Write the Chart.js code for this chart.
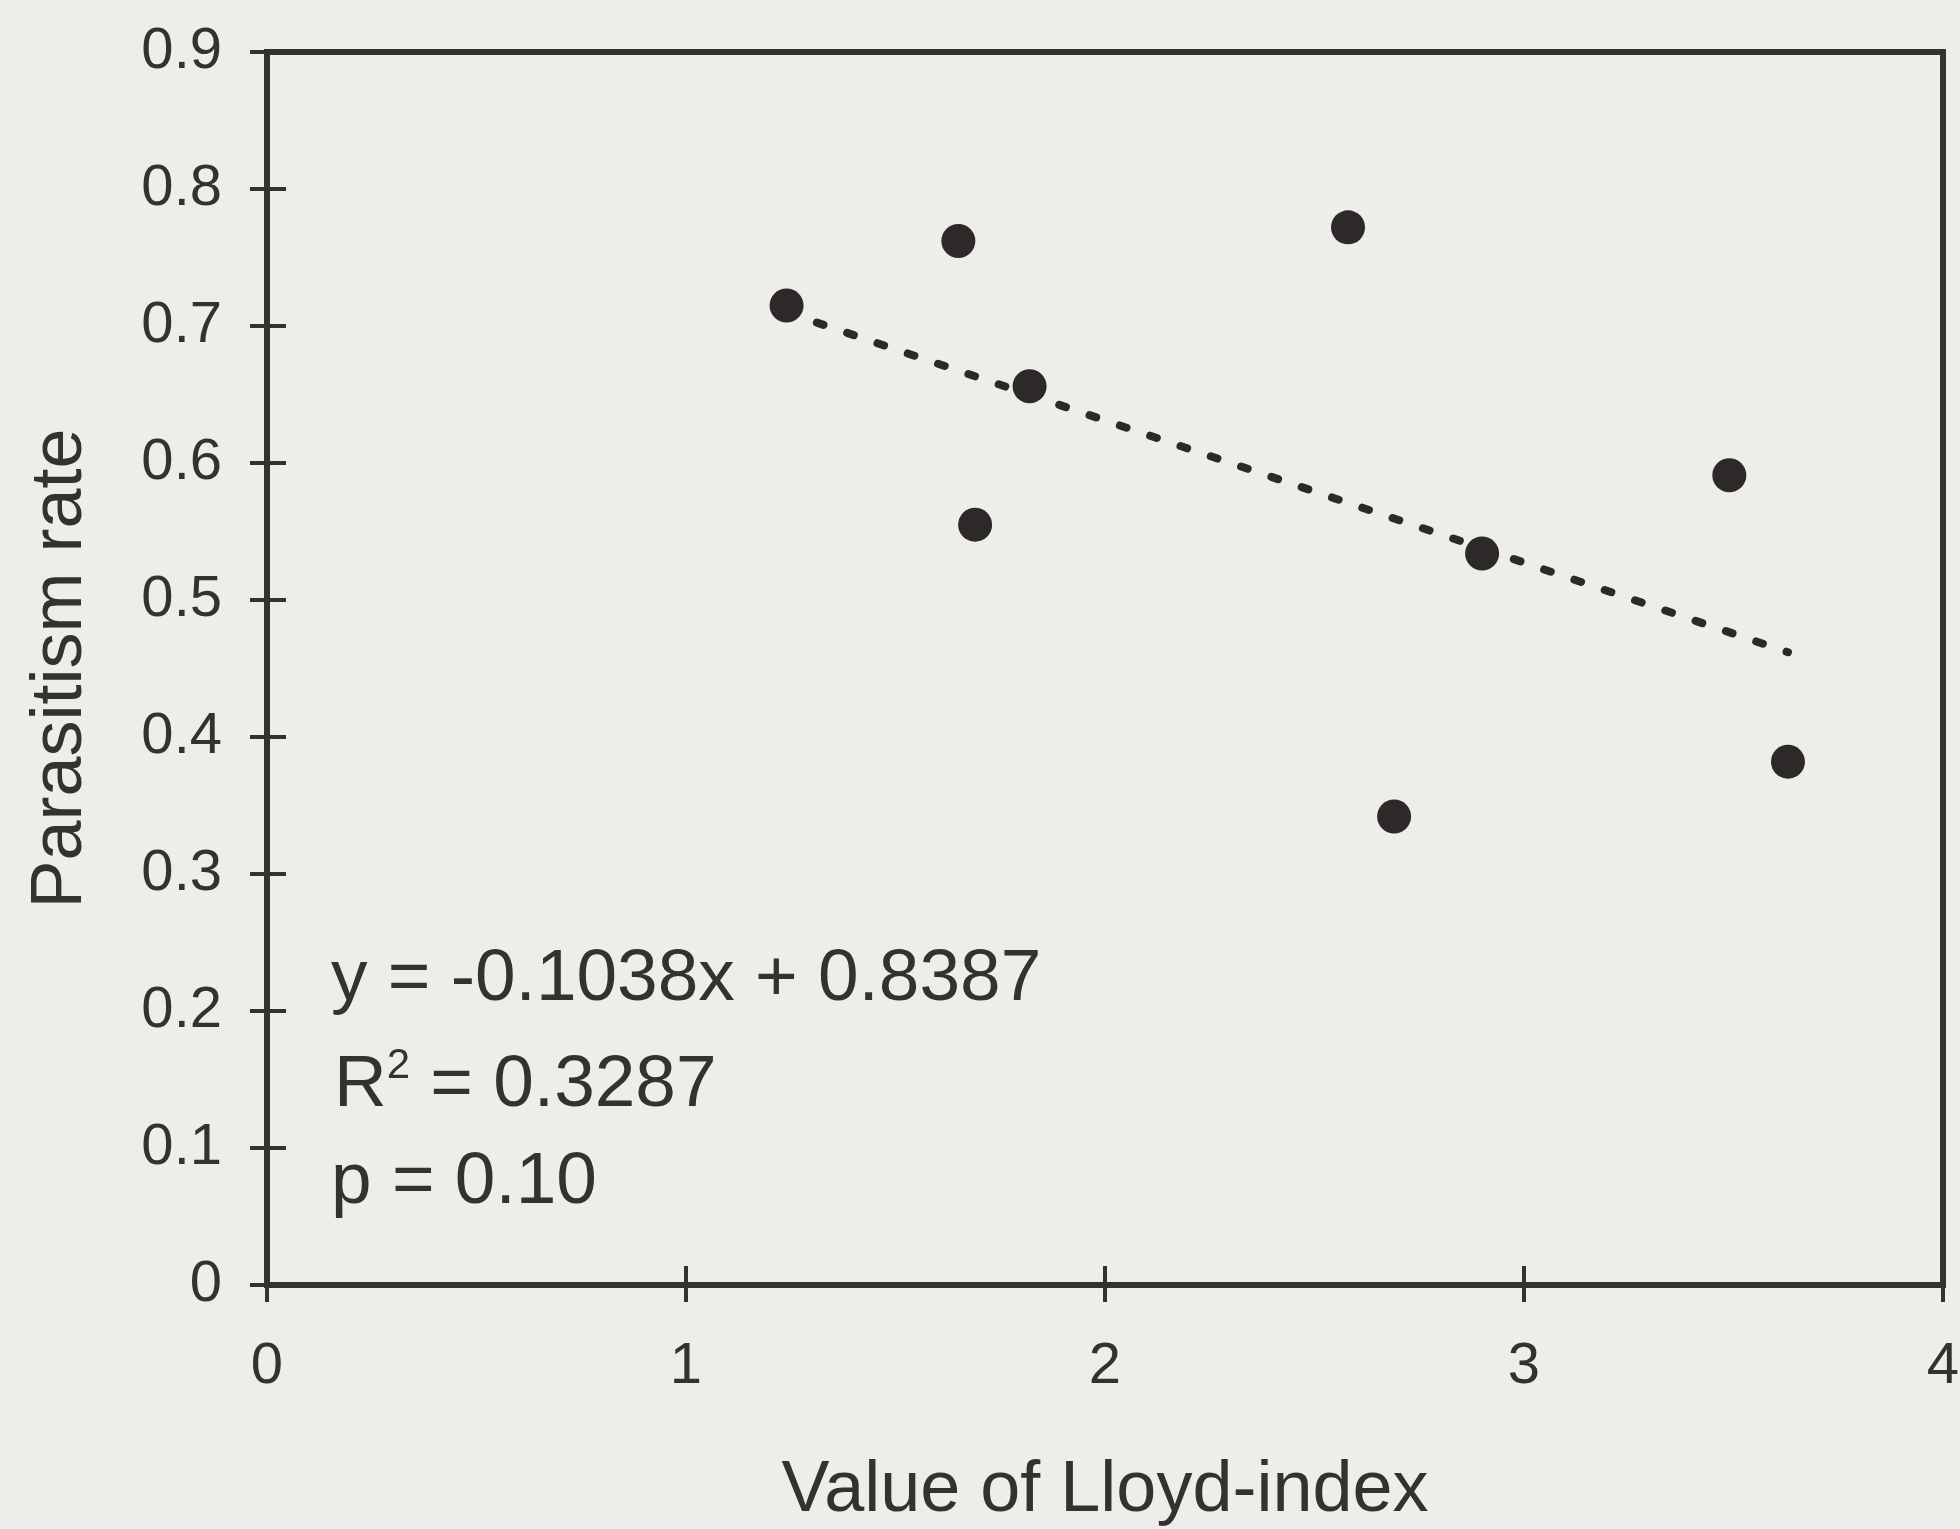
<!DOCTYPE html>
<html>
<head>
<meta charset="utf-8">
<script src="https://cdn.jsdelivr.net/npm/chart.js@4"></script>
<style>
  html, body { margin: 0; padding: 0; background: #ededea; }
  #wrap { width: 1960px; height: 1529px; }
</style>
</head>
<body>
<div id="wrap"><canvas id="myChart" width="1960" height="1529"></canvas></div>
<script>
// values
var lloydIndex = [1.24, 1.65, 2.58, 1.82, 1.69, 2.90, 3.49, 2.69, 3.63];
var parasitism = [0.715, 0.762, 0.772, 0.656, 0.555, 0.534, 0.591, 0.342, 0.382];

// printed regression
var slope = -0.1038;
var intercept = 0.8387;
var statLines = ["y = -0.1038x + 0.8387", "R", "2", " = 0.3287", "p = 0.10"];

var xTickLabels = ["0", "1", "2", "3", "4"];
var yTickLabels = ["0", "0.1", "0.2", "0.3", "0.4", "0.5", "0.6", "0.7", "0.8", "0.9"];

var ink = "#353131";
var fontName = "'Liberation Sans', Arial, Helvetica, sans-serif";
Chart.defaults.font.family = fontName;
Chart.defaults.color = ink;

var points = [];
for (var i = 0; i < lloydIndex.length; i++) {
    points.push({ x: lloydIndex[i], y: parasitism[i] });
}

var xMin = Math.min.apply(null, lloydIndex);
var xMax = Math.max.apply(null, lloydIndex);
var trend = [
    { x: xMin, y: slope * xMin + intercept },
    { x: xMax, y: slope * xMax + intercept }
];

// box, inner half of the cross ticks, and the stats text
var framePlugin = {
    id: "frame",
    afterDraw: function (chart) {
        var ctx = chart.ctx;
        var a = chart.chartArea;
        var xs = chart.scales.x;
        var ys = chart.scales.y;
        ctx.save();
        ctx.strokeStyle = ink;
        ctx.lineWidth = 4;
        ys.ticks.forEach(function (t) {
            var py = ys.getPixelForValue(t.value);
            ctx.beginPath();
            ctx.moveTo(a.left, py);
            ctx.lineTo(a.left + 19, py);
            ctx.stroke();
        });
        xs.ticks.forEach(function (t) {
            var px = xs.getPixelForValue(t.value);
            ctx.beginPath();
            ctx.moveTo(px, a.bottom);
            ctx.lineTo(px, a.bottom - 19);
            ctx.stroke();
        });
        ctx.lineWidth = 6;
        ctx.strokeRect(a.left, a.top, a.right - a.left, a.bottom - a.top);

        ctx.fillStyle = ink;
        ctx.textBaseline = "alphabetic";
        ctx.textAlign = "left";
        var tx = a.left + 64;
        ctx.font = "73px " + fontName;
        ctx.fillText(statLines[0], tx, a.top + 948);
        ctx.fillText(statLines[1], tx + 3, a.top + 1054);
        var rw = ctx.measureText(statLines[1]).width;
        ctx.font = "42px " + fontName;
        ctx.fillText(statLines[2], tx + 3 + rw, a.top + 1026);
        var sw = ctx.measureText(statLines[2]).width;
        ctx.font = "73px " + fontName;
        ctx.fillText(statLines[3], tx + 3 + rw + sw, a.top + 1054);
        ctx.fillText(statLines[4], tx, a.top + 1151);
        ctx.restore();
    }
};

var chartCtx = document.getElementById("myChart");
var myChart = new Chart(chartCtx, {
    type: "scatter",
    data: {
        datasets: [
            {
                label: "Parasitism",
                data: points,
                backgroundColor: "#2d2929",
                borderWidth: 0,
                pointRadius: 17,
                pointHoverRadius: 17,
            },
            {
                type: "line",
                label: "Trend",
                data: trend,
                borderColor: "#2d2929",
                borderWidth: 8,
                borderDash: [7, 25],
                borderCapStyle: "round",
                pointRadius: 0,
                fill: false,
            },
        ],
    },
    options: {
        responsive: false,
        animation: false,
        events: [],
        layout: { padding: { top: 52, right: 13, left: 0, bottom: 0 } },
        plugins: {
            legend: { display: false },
            tooltip: { enabled: false },
        },
        scales: {
            x: {
                type: "linear",
                min: 0,
                max: 4,
                ticks: {
                    stepSize: 1,
                    padding: 30,
                    font: { size: 58 },
                    color: ink,
                    callback: function (v, i) { return xTickLabels[i]; },
                },
                grid: { drawOnChartArea: false, tickLength: 17, lineWidth: 4, color: ink },
                border: { display: false },
                title: {
                    display: true,
                    text: "Value of Lloyd-index",
                    font: { size: 72, lineHeight: 1 },
                    color: ink,
                    padding: { top: 0, bottom: 2 },
                },
                afterFit: function (scale) {
                    scale.height = 244;
                    scale.paddingLeft = 0;
                    scale.paddingRight = 0;
                },
            },
            y: {
                type: "linear",
                min: 0,
                max: 0.9,
                ticks: {
                    stepSize: 0.1,
                    padding: 28,
                    font: { size: 58 },
                    color: ink,
                    callback: function (v, i) { return yTickLabels[i]; },
                },
                grid: { drawOnChartArea: false, tickLength: 17, lineWidth: 4, color: ink },
                border: { display: false },
                title: {
                    display: true,
                    text: "Parasitism rate",
                    font: { size: 72, lineHeight: 1 },
                    color: ink,
                    padding: { top: 25, bottom: 0 },
                },
                afterFit: function (scale) {
                    scale.width = 267;
                    scale.paddingTop = 0;
                    scale.paddingBottom = 0;
                },
            },
        },
    },
    plugins: [framePlugin],
});
</script>
</body>
</html>
